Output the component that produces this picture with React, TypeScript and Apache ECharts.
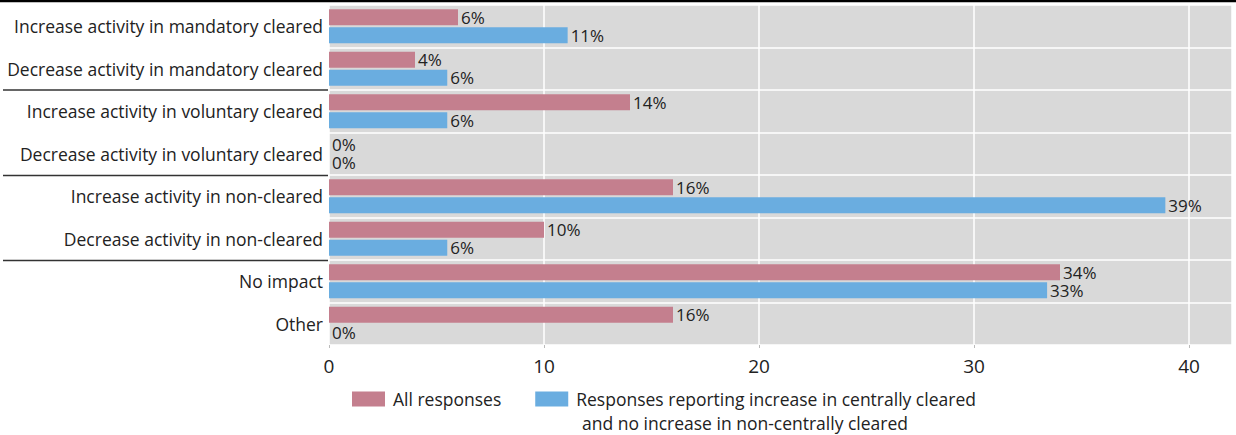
import React, { useEffect, useRef } from "react";
import * as echarts from "echarts";

const categories = [
  "Increase activity in mandatory cleared",
  "Decrease activity in mandatory cleared",
  "Increase activity in voluntary cleared",
  "Decrease activity in voluntary cleared",
  "Increase activity in non-cleared",
  "Decrease activity in non-cleared",
  "No impact",
  "Other",
];
const allResponses = [6, 4, 14, 0, 16, 10, 34, 16];
const centrallyCleared = [11.1, 5.5, 5.5, 0, 38.9, 5.5, 33.4, 0];
const seriesNames = [
  "All responses",
  "Responses reporting increase in centrally cleared",
];
const legendSecondLine = "and no increase in non-centrally cleared";
const xTicks = [0, 10, 20, 30, 40];

const FONT = "'Open Sans', 'Noto Sans', sans-serif";
const PINK = "#c47f8e";
const BLUE = "#6aade0";

export default function App() {
  const ref = useRef<HTMLDivElement>(null);
  useEffect(() => {
    document.body.style.margin = "0";
    const chart = echarts.init(ref.current!, null, { renderer: "svg" });
    const labelCfg = {
      show: true,
      position: "right",
      distance: 3,
      fontSize: 17,
      lineHeight: 17,
      color: "#222",
      fontFamily: FONT,
      formatter: (p: any) => Math.round(p.value) + "%",
    };
    const sepLine = (y: number) => ({
      type: "line",
      shape: { x1: 3, y1: y, x2: 328, y2: y },
      style: { stroke: "#333", lineWidth: 1.5 },
    });
    chart.setOption({
      animation: false,
      textStyle: { fontFamily: FONT },
      grid: {
        left: 329,
        right: 4,
        top: 5,
        bottom: 90,
        show: true,
        backgroundColor: "#d9d9d9",
        borderWidth: 0,
      },
      legend: {
        left: 352,
        top: 389,
        padding: 0,
        itemWidth: 33,
        itemHeight: 15,
        itemGap: 34,
        icon: "rect",
        data: seriesNames,
        textStyle: {
          fontSize: 17.5,
          lineHeight: 20,
          color: "#222",
          fontFamily: FONT,
          padding: [0, 0, 0, 3],
        },
      },
      xAxis: {
        type: "value",
        min: 0,
        max: 42,
        interval: 10,
        axisLine: { show: false },
        axisTick: { show: true, length: 3, lineStyle: { color: "#bbb" } },
        axisLabel: {
          fontSize: 19,
          color: "#222",
          margin: 11,
          showMaxLabel: false,
          formatter: (v: number) => (xTicks.includes(v) ? String(v) : ""),
        },
        splitLine: { show: true, lineStyle: { color: "#ffffff", width: 1.5 } },
      },
      yAxis: {
        type: "category",
        inverse: true,
        data: categories,
        axisLine: { show: false },
        axisTick: { show: false },
        axisLabel: { fontSize: 17.5, color: "#222", margin: 6 },
        splitLine: { show: true, lineStyle: { color: "#ffffff", width: 1.5 } },
      },
      series: [
        {
          name: seriesNames[0],
          type: "bar",
          data: allResponses,
          barWidth: 16,
          barGap: "12%",
          itemStyle: { color: PINK },
          label: labelCfg,
        },
        {
          name: seriesNames[1],
          type: "bar",
          data: centrallyCleared,
          barWidth: 16,
          itemStyle: { color: BLUE },
          label: labelCfg,
        },
      ],
      graphic: [
        {
          type: "line",
          shape: { x1: 0, y1: 1, x2: 1236, y2: 1 },
          style: { stroke: "#000", lineWidth: 2.5 },
        },
        sepLine(90),
        sepLine(175.5),
        sepLine(260.5),
        {
          type: "text",
          x: 582,
          y: 423,
          style: {
            text: legendSecondLine,
            fontSize: 17.5,
            lineHeight: 20,
            fill: "#222",
            fontFamily: FONT,
            verticalAlign: "middle",
          },
        },
      ],
    });
    return () => chart.dispose();
  }, []);
  return <div ref={ref} style={{ width: 1236, height: 435 }} />;
}
